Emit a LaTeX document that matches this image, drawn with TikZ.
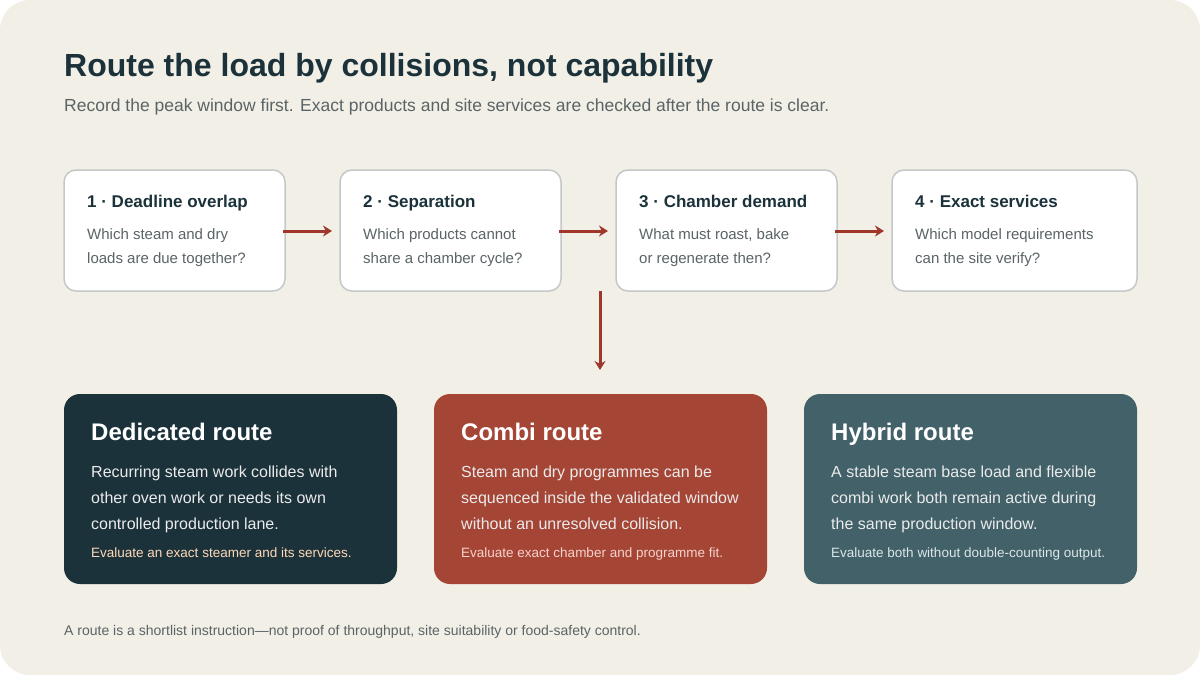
\documentclass[tikz,border=0pt]{standalone}
\usepackage{fontspec}
\setmainfont{Liberation Sans}
\usetikzlibrary{positioning}
\usetikzlibrary{arrows.meta}
\definecolor{cream}{HTML}{F2EFE7}
\definecolor{ink}{HTML}{1B323B}
\definecolor{muted}{HTML}{5A6466}
\definecolor{rust}{HTML}{A0372B}
\definecolor{combi}{HTML}{A54535}
\definecolor{hybrid}{HTML}{426169}
\definecolor{edge}{HTML}{C4C8C8}
\tikzset{
  qbox/.style={draw=edge, line width=1.5pt, fill=white, rounded corners=12pt},
  route/.style={rounded corners=16pt},
  flow/.style={-{Stealth[length=9pt,width=11pt]}, rust, line width=3pt},
  txt/.style={anchor=base west, inner sep=0pt}
}
\begin{document}
\begin{tikzpicture}[x=1pt, y=-1pt]
    \fill[white] (0,0) rectangle (1200,675);
    \fill[cream, rounded corners=30pt] (0,0) rectangle (1200,675);

    \node[txt, text=ink, font=\bfseries\fontsize{32}{36}\selectfont] (title) at (64,76) {Route the load by collisions, not capability};
    \node[txt, text=muted, font=\fontsize{17.5}{20}\selectfont] (sub) at (64,111) {Record the peak window first. Exact products and site services are checked after the route is clear.};

    % question steps
    \foreach \i/\x/\w/\name/\la/\lb in {
        1/64/221/{1 · Deadline overlap}/{Which steam and dry}/{loads are due together?},
        2/340/221/{2 · Separation}/{Which products cannot}/{share a chamber cycle?},
        3/616/221/{3 · Chamber demand}/{What must roast, bake}/{or regenerate then?},
        4/892/245/{4 · Exact services}/{Which model requirements}/{can the site verify?}} {
        \draw[qbox] (\x,170) rectangle ++(\w,121);
        \coordinate (s\i w) at (\x,231);
        \coordinate (s\i e) at (\x+\w,231);
        \node[txt, text=ink, font=\bfseries\fontsize{17}{20}\selectfont] at (\x+23,207) {\name};
        \node[txt, text=muted, font=\fontsize{15}{18}\selectfont] at (\x+23,239) {\la};
        \node[txt, text=muted, font=\fontsize{15}{18}\selectfont] at (\x+23,263) {\lb};
    }
    \coordinate (s3s) at (600,291);
    \coordinate (fork) at (600,370);

    \foreach \a/\b in {1/2,2/3,3/4} {
        \draw[flow] ([xshift=-2pt]s\a e) -- ([xshift=-8pt]s\b w);
    }
    \draw[flow] (s3s) -- (fork);

    % routes
    \foreach \x/\fc/\nc/\name/\la/\lb/\lc/\note in {
        64/ink/{FFD9B8}/{Dedicated route}/{Recurring steam work collides with}/{other oven work or needs its own}/{controlled production lane.}/{Evaluate an exact steamer and its services.},
        434/combi/{F6D2CB}/{Combi route}/{Steam and dry programmes can be}/{sequenced inside the validated window}/{without an unresolved collision.}/{Evaluate exact chamber and programme fit.},
        804/hybrid/{DCE6E8}/{Hybrid route}/{A stable steam base load and flexible}/{combi work both remain active during}/{the same production window.}/{Evaluate both without double-counting output.}} {
        \definecolor{notecol}{HTML}{\nc}
        \fill[route, \fc] (\x,394) rectangle ++(333,190);
        \node[txt, text=white, font=\bfseries\fontsize{24}{28}\selectfont] at (\x+27,440) {\name};
        \node[txt, text=white!92!black, font=\fontsize{16}{19}\selectfont] at (\x+27,477) {\la};
        \node[txt, text=white!92!black, font=\fontsize{16}{19}\selectfont] at (\x+27,503) {\lb};
        \node[txt, text=white!92!black, font=\fontsize{16}{19}\selectfont] at (\x+27,529) {\lc};
        \node[txt, text=notecol, font=\fontsize{13.5}{16}\selectfont] at (\x+27,557) {\note};
    }

    \node[txt, text=muted, font=\fontsize{14}{17}\selectfont] (foot) at (64,635) {A route is a shortlist instruction—not proof of throughput, site suitability or food-safety control.};
\end{tikzpicture}
\end{document}
